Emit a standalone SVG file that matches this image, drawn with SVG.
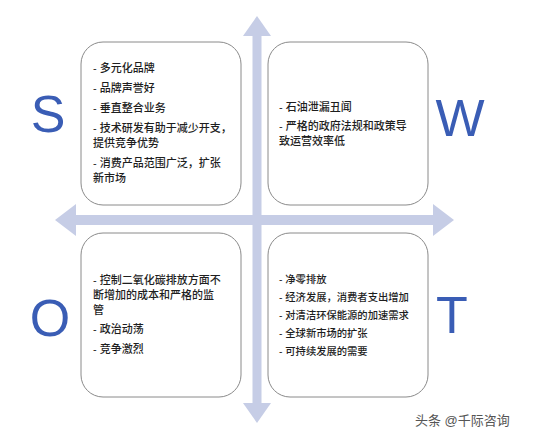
<svg xmlns="http://www.w3.org/2000/svg" width="534" height="440" viewBox="0 0 534 440">
<style>
.box{fill:#fff;stroke:#8a8a8a;stroke-width:1}
.t{font-family:"Liberation Sans","Noto Sans CJK SC",sans-serif;font-size:11px;font-weight:500;fill:#1e1e1e}
.big{font-family:"Liberation Sans","Open Sans",sans-serif;font-size:52px;fill:#3a5db5}
.arr{fill:#c6cde6}
</style>
<rect width="534" height="440" fill="#fff"/>
<g id="connectors">
<rect class="arr" x="252.5" y="34" width="9" height="370"/>
<polygon class="arr" points="257,16 271,36 243,36"/>
<polygon class="arr" points="257,423 271,403 243,403"/>
<rect class="arr" x="74" y="215" width="361" height="10"/>
<polygon class="arr" points="55,220 76,204 76,236"/>
<polygon class="arr" points="454,220 433,204 433,236"/>
</g>
<g id="S">
<rect class="box" x="81" y="42" width="160" height="163" rx="22"/>
<text class="t" x="93" y="72">- 多元化品牌</text>
<text class="t" x="93" y="92">- 品牌声誉好</text>
<text class="t" x="93" y="112">- 垂直整合业务</text>
<text class="t" x="93" y="132">- 技术研发有助于减少开支，</text>
<text class="t" x="93" y="147">提供竞争优势</text>
<text class="t" x="93" y="167">- 消费产品范围广泛，扩张</text>
<text class="t" x="93" y="182">新市场</text>
</g>
<g id="W">
<rect class="box" x="268" y="42" width="160" height="163" rx="22"/>
<text class="t" x="279" y="111">- 石油泄漏丑闻</text>
<text class="t" x="279" y="130">- 严格的政府法规和政策导</text>
<text class="t" x="279" y="145">致运营效率低</text>
</g>
<g id="O">
<rect class="box" x="81" y="233" width="160" height="164" rx="22"/>
<text class="t" x="93" y="284">- 控制二氧化碳排放方面不</text>
<text class="t" x="93" y="299">断增加的成本和严格的监</text>
<text class="t" x="93" y="314">管</text>
<text class="t" x="93" y="333">- 政治动荡</text>
<text class="t" x="93" y="353">- 竞争激烈</text>
</g>
<g id="T">
<rect class="box" x="268" y="233" width="160" height="164" rx="22"/>
<text class="t" x="279" y="283" style="font-size:10.3px">- 净零排放</text>
<text class="t" x="279" y="301" style="font-size:10.3px">- 经济发展，消费者支出增加</text>
<text class="t" x="279" y="319" style="font-size:10.3px">- 对清洁环保能源的加速需求</text>
<text class="t" x="279" y="337" style="font-size:10.3px">- 全球新市场的扩张</text>
<text class="t" x="279" y="355" style="font-size:10.3px">- 可持续发展的需要</text>
</g>
<g id="letters">
<text class="big" x="48" y="132" text-anchor="middle">S</text>
<text class="big" x="460" y="136" text-anchor="middle">W</text>
<text class="big" x="50" y="336" text-anchor="middle">O</text>
<text class="big" x="452" y="333" text-anchor="middle">T</text>
</g>
<text x="415" y="425" style="font-family:'Liberation Sans','Noto Sans CJK SC',sans-serif;font-size:13px;fill:#555">头条 @千际咨询</text>
</svg>
